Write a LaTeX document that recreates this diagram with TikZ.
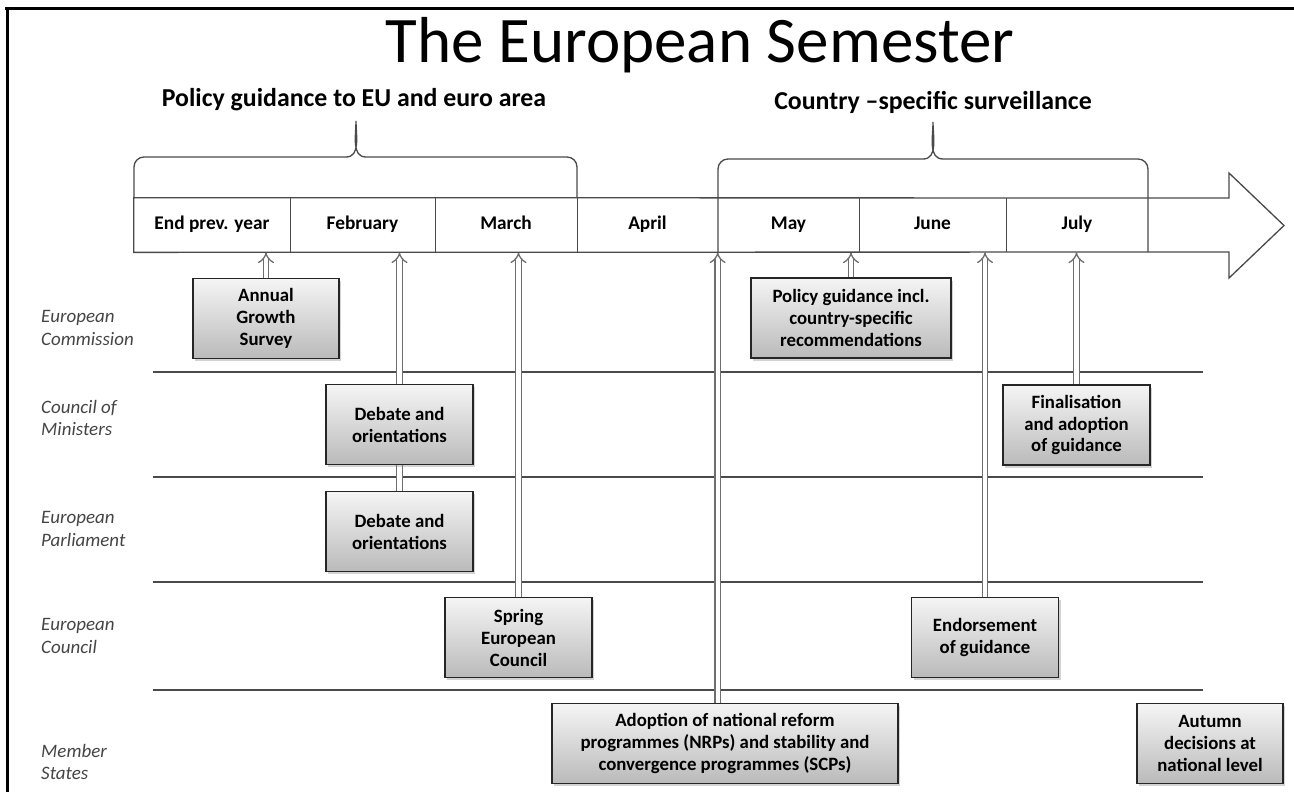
\documentclass[tikz,border=0pt]{standalone}
\usepackage{fontspec}
\setmainfont{Carlito}
\usetikzlibrary{arrows.meta,shadows}
\pgfdeclarelayer{bg}
\pgfsetlayers{bg,main}
\definecolor{linegray}{HTML}{4A4A4A}
\definecolor{labelgray}{HTML}{454545}
\definecolor{arrowgray}{HTML}{6E6E6E}
\tikzset{
    ebox/.style={draw=black!85, line width=0.9pt, top color=black!4, bottom color=black!27,
        drop shadow={shadow xshift=1.2pt, shadow yshift=-1.5pt, opacity=0.35},
        minimum width=2.94cm, minimum height=1.6cm, inner sep=2pt, align=center,
        font=\fontsize{10.7}{12.5}\selectfont\bfseries},
    rowlabel/.style={anchor=west, align=left, text=labelgray,
        font=\fontsize{10.8}{12.6}\selectfont\itshape},
    month/.style={minimum height=1.08cm, inner sep=0pt, text height=1.55ex, text depth=0.45ex,
        font=\fontsize{11}{13}\selectfont\bfseries},
    subhead/.style={anchor=base, font=\fontsize{14.7}{16}\selectfont\bfseries},
    band/.style={draw=linegray, line width=0.75pt},
    rowline/.style={draw=linegray, line width=0.8pt},
    uparrow/.style={draw=arrowgray, line width=0.75pt, double=white, double distance=2.4pt,
        -{Implies[scale=1.2]}},
}
\begin{document}
        \begin{tikzpicture}[x=0.02cm, y=-0.02cm]
            \useasboundingbox (0,0) rectangle (1294,792);
            \draw[line width=0.06cm] (5,8.5) -- (1294,8.5);
            \draw[line width=0.06cm] (7.5,8.5) -- (7.5,792);

            \node (title) at (700,62)[anchor=base, font=\fontsize{37}{40}\selectfont]{The European Semester};
            \node (polt) at (354,106)[subhead]{Policy guidance to EU and euro area};
            \node (cst) at (933,109)[subhead]{Country –specific surveillance};

            \foreach \cx/\w/\nm/\txt in {212/3.12/endy/End prev. year, 362.5/2.9/feb/February,
                506/2.84/mar/March, 647.5/2.82/apr/April, 788.5/2.82/may/May,
                932.5/2.94/jun/June, 1077/2.84/jul/July}
                {
                    \node (\nm) at (\cx,225)[month, minimum width=\w cm]{\txt};
                }

            \draw[band] (endy.north west) -- (1229,198) -- (1229,173) -- (1284,225.5)
                -- (1229,278) -- (1229,252) -- (endy.south west) -- cycle;
            \foreach \nm in {endy,feb,mar,may,jun}
                {
                    \draw[band] (\nm.north east) -- (\nm.south east);
                }

            \draw[band] (134,198) -- (134,167) to[out=90,in=180] (144,157) -- (346,157)
                to[out=0,in=-90] (356,121) to[out=-90,in=180] (366,157) -- (567,157)
                to[out=0,in=90] (577,167) -- (577,198);
            \draw[band] (718,252) -- (718,169) to[out=90,in=180] (728,159) -- (923,159)
                to[out=0,in=-90] (933,122) to[out=-90,in=180] (943,159) -- (1138,159)
                to[out=0,in=90] (1148,169) -- (1148,252);

            \node (lcom) at (35,328)[rowlabel]{European\\Commission};
            \node (lcou) at (35,418)[rowlabel]{Council of\\Ministers};
            \node (lpar) at (35,529)[rowlabel]{European\\Parliament};
            \node (leuc) at (35,636)[rowlabel]{European\\Council};
            \node (lmem) at (35,762)[rowlabel]{Member\\States};

            \node (ags) at (266,318.5)[ebox, minimum width=2.92cm]{Annual\\Growth\\Survey};
            \node (pol) at (851,318)[ebox, minimum width=4cm]{Policy guidance incl.\\country-specific\\recommendations};
            \node (cdeb) at (399.5,424.5)[ebox]{Debate and\\orientations};
            \node (fin) at (1076.5,425)[ebox]{Finalisation\\and adoption\\of guidance};
            \node (pdeb) at (399.5,531.5)[ebox]{Debate and\\orientations};
            \node (spring) at (518.5,637.5)[ebox]{Spring\\European\\Council};
            \node (endo) at (985,637.5)[ebox]{Endorsement\\of guidance};
            \node (nrp) at (725,743.5)[ebox, minimum width=6.92cm]{Adoption of national reform\\programmes (NRPs) and stability and\\convergence programmes (SCPs)};
            \node (aut) at (1210,743.5)[ebox, minimum width=2.92cm]{Autumn\\decisions at\\national level};

            \begin{pgfonlayer}{bg}
                \foreach \y in {372,477,582,690}
                    {
                        \draw[rowline] (153,\y) -- (1203,\y);
                    }
                \draw[uparrow] (ags.north) -- (ags.north |- endy.south);
                \draw[uparrow] (pdeb.north) -- (pdeb.north |- feb.south);
                \draw[uparrow] (spring.north) -- (spring.north |- mar.south);
                \draw[uparrow] (nrp.north -| may.west) -- (may.south west);
                \draw[uparrow] (pol.north) -- (pol.north |- may.south);
                \draw[uparrow] (endo.north) -- (endo.north |- jun.south);
                \draw[uparrow] (fin.north) -- (fin.north |- jul.south);
            \end{pgfonlayer}
        \end{tikzpicture}
\end{document}
